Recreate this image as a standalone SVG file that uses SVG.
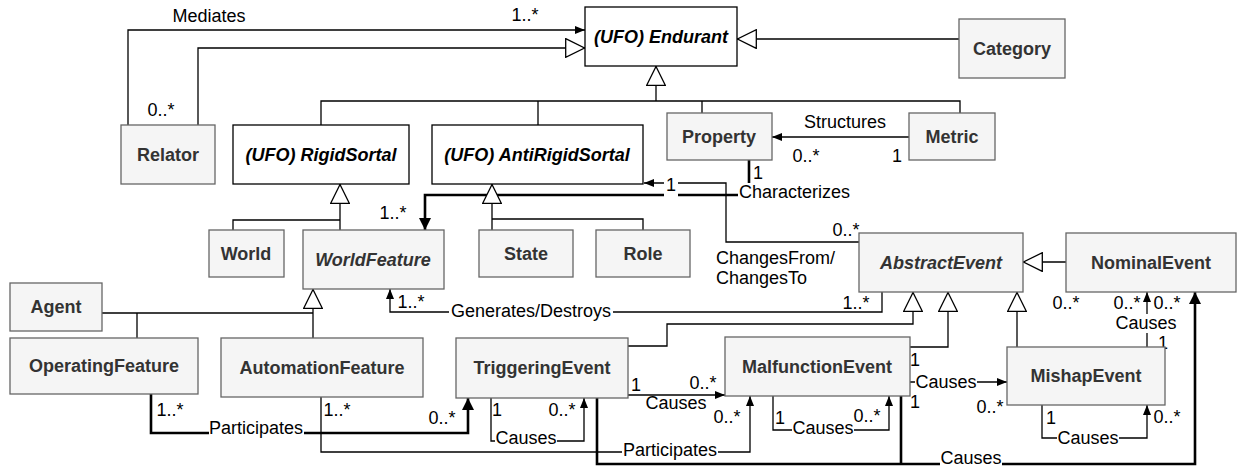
<svg xmlns="http://www.w3.org/2000/svg" width="1238" height="468" viewBox="0 0 1238 468">
<style>
.n{fill:#f5f5f5;stroke:#666666;stroke-width:1.3}
.a{fill:#ffffff;stroke:#000000;stroke-width:1.3}
.t{font-family:"Liberation Sans",Arial,sans-serif;font-size:18px;font-weight:bold;fill:#333333;text-anchor:middle}
.ti{font-family:"Liberation Sans",Arial,sans-serif;font-size:18px;font-weight:bold;font-style:italic;fill:#000000;text-anchor:middle}
.tg{fill:#333333}
.e{fill:none;stroke:#000000;stroke-width:1.3}
.k{fill:none;stroke:#000000;stroke-width:2.6}
.l{font-family:"Liberation Sans",Arial,sans-serif;font-size:18px;fill:#000000;text-anchor:middle}
.ls{font-family:"Liberation Sans",Arial,sans-serif;font-size:18px;fill:#000000;text-anchor:start}
.bg{fill:#ffffff}
</style>
<defs>
<marker id="tri" viewBox="0 0 20 20" refX="20" refY="10" markerWidth="20" markerHeight="20" markerUnits="userSpaceOnUse" orient="auto">
<path d="M0.7,0.7 L19.5,10 L0.7,19.3 Z" fill="#ffffff" stroke="#000000" stroke-width="1.3"/>
</marker>
<marker id="arr" viewBox="0 0 10 8" refX="10" refY="4" markerWidth="10" markerHeight="8" markerUnits="userSpaceOnUse" orient="auto">
<path d="M0,0 L10,4 L0,8 Z" fill="#000000"/>
</marker>
<marker id="arrT" viewBox="0 0 12 12" refX="12" refY="6" markerWidth="12" markerHeight="12" markerUnits="userSpaceOnUse" orient="auto">
<path d="M0,0 L12,6 L0,12 Z" fill="#000000"/>
</marker>
</defs>
<rect width="1238" height="468" fill="#ffffff"/>
<g id="connectors">
<!-- associations -->
<path class="e" d="M128,125 V30 H585" marker-end="url(#arr)"/>
<path class="e" d="M909,137 H772" marker-end="url(#arr)"/>
<path class="e" d="M859,242 H726 V183 H644" marker-end="url(#arr)"/>
<path class="k" d="M749,160 V195 H425 V230" marker-end="url(#arrT)"/>
<path class="e" d="M882,292 V312 H390 V289" marker-end="url(#arr)"/>
<path class="e" d="M1147,347 V292" marker-end="url(#arr)"/>
<path class="k" d="M597,398 V464 H1195 V292" marker-end="url(#arrT)"/>
<path class="k" d="M901,396 V464"/>
<path class="e" d="M491,398 V441 H584 V398" marker-end="url(#arr)"/>
<path class="e" d="M628,395 H725" marker-end="url(#arr)"/>
<path class="k" d="M151,394 V433 H468 V398" marker-end="url(#arrT)"/>
<path class="e" d="M321,397 V452 H750 V396" marker-end="url(#arr)"/>
<path class="e" d="M773,396 V430 H889 V396" marker-end="url(#arr)"/>
<path class="e" d="M910,382 H1007" marker-end="url(#arr)"/>
<path class="e" d="M1042,405 V438 H1147 V405" marker-end="url(#arr)"/>
<!-- generalizations -->
<path class="e" d="M198,125 V48 H585" marker-end="url(#tri)"/>
<path class="e" d="M959,39 H737" marker-end="url(#tri)"/>
<path class="e" d="M321,125 V101 H960 V113 M538,101 V125 M702,101 V113"/>
<path class="e" d="M656,101 V66" marker-end="url(#tri)"/>
<path class="e" d="M233,230 V220 H340"/>
<path class="e" d="M340,230 V184" marker-end="url(#tri)"/>
<path class="e" d="M492,219 H643 V230"/>
<path class="e" d="M492,230 V184" marker-end="url(#tri)"/>
<path class="e" d="M102,313 H313 M137,313 V338"/>
<path class="e" d="M313,338 V289" marker-end="url(#tri)"/>
<path class="e" d="M628,346 H667 V324 H913 V292" marker-end="url(#tri)"/>
<path class="e" d="M910,347 H948 V292" marker-end="url(#tri)"/>
<path class="e" d="M1017,347 V292" marker-end="url(#tri)"/>
<path class="e" d="M1066,262 H1023" marker-end="url(#tri)"/>
<!-- labels -->
<text class="l" x="209" y="22">Mediates</text>
<text class="l" x="525" y="21">1..*</text>
<text class="l" x="161" y="116">0..*</text>
<text class="l" x="845" y="128">Structures</text>
<text class="l" x="806" y="162">0..*</text>
<text class="l" x="897" y="162">1</text>
<text class="l" x="758" y="179">1</text>
<rect class="bg" x="664" y="176" width="14" height="21"/>
<text class="l" x="671" y="191">1</text>
<rect class="bg" x="738" y="183" width="116" height="19"/>
<text class="ls" x="739" y="198">Characterizes</text>
<text class="l" x="393" y="219">1..*</text>
<text class="l" x="846" y="236">0..*</text>
<text class="ls" x="716" y="264">ChangesFrom/</text>
<text class="ls" x="716" y="284">ChangesTo</text>
<rect class="bg" x="449" y="302" width="164" height="19"/>
<text class="l" x="531" y="317">Generates/Destroys</text>
<text class="l" x="411" y="308">1..*</text>
<text class="l" x="856" y="309">1..*</text>
<text class="l" x="1066" y="309">0..*</text>
<text class="l" x="1127" y="309">0..*</text>
<text class="l" x="1167" y="309">0..*</text>
<rect class="bg" x="1115" y="314" width="63" height="19"/>
<text class="l" x="1146" y="329">Causes</text>
<text class="l" x="1163" y="349">1</text>
<text class="l" x="170" y="416">1..*</text>
<text class="l" x="337" y="416">1..*</text>
<text class="l" x="442" y="424">0..*</text>
<text class="l" x="497" y="416">1</text>
<text class="l" x="562" y="416">0..*</text>
<rect class="bg" x="495" y="429" width="62" height="19"/>
<text class="l" x="526" y="444">Causes</text>
<text class="l" x="636" y="391">1</text>
<text class="l" x="703" y="389">0..*</text>
<text class="l" x="676" y="409">Causes</text>
<rect class="bg" x="209" y="419" width="95" height="19"/>
<text class="l" x="256" y="434">Participates</text>
<rect class="bg" x="622" y="441" width="96" height="19"/>
<text class="l" x="670" y="456">Participates</text>
<text class="l" x="727" y="423">0..*</text>
<text class="l" x="780" y="424">1</text>
<text class="l" x="867" y="422">0..*</text>
<rect class="bg" x="792" y="419" width="62" height="19"/>
<text class="l" x="823" y="434">Causes</text>
<text class="l" x="915" y="366">1</text>
<text class="l" x="915" y="408">1</text>
<rect class="bg" x="915" y="373" width="62" height="19"/>
<text class="l" x="946" y="388">Causes</text>
<text class="l" x="990" y="413">0..*</text>
<text class="l" x="1051" y="424">1</text>
<text class="l" x="1167" y="423">0..*</text>
<rect class="bg" x="1057" y="429" width="62" height="19"/>
<text class="l" x="1088" y="444">Causes</text>
<rect class="bg" x="940" y="449" width="62" height="19"/>
<text class="l" x="971" y="464">Causes</text>
</g>
<g id="Endurant"><rect class="a" x="585" y="7" width="152" height="59"/><text class="ti" x="661" y="43">(UFO) Endurant</text></g>
<g id="Category"><rect class="n" x="959" y="19" width="106" height="59"/><text class="t" x="1012" y="55">Category</text></g>
<g id="Relator"><rect class="n" x="121" y="125" width="94" height="59"/><text class="t" x="168" y="161">Relator</text></g>
<g id="RigidSortal"><rect class="a" x="233" y="125" width="176" height="59"/><text class="ti" x="321" y="161">(UFO) RigidSortal</text></g>
<g id="AntiRigidSortal"><rect class="a" x="432" y="125" width="211" height="59"/><text class="ti" x="537" y="161">(UFO) AntiRigidSortal</text></g>
<g id="Property"><rect class="n" x="667" y="113" width="105" height="47"/><text class="t" x="719" y="143">Property</text></g>
<g id="Metric"><rect class="n" x="909" y="113" width="86" height="47"/><text class="t" x="952" y="143">Metric</text></g>
<g id="World"><rect class="n" x="209" y="230" width="75" height="47"/><text class="t" x="246" y="260">World</text></g>
<g id="WorldFeature"><rect class="n" x="303" y="230" width="141" height="59"/><text class="ti tg" x="373" y="266">WorldFeature</text></g>
<g id="State"><rect class="n" x="479" y="230" width="94" height="47"/><text class="t" x="526" y="260">State</text></g>
<g id="Role"><rect class="n" x="596" y="230" width="94" height="47"/><text class="t" x="643" y="260">Role</text></g>
<g id="AbstractEvent"><rect class="n" x="859" y="233" width="164" height="59"/><text class="ti tg" x="941" y="269">AbstractEvent</text></g>
<g id="NominalEvent"><rect class="n" x="1066" y="233" width="170" height="59"/><text class="t" x="1151" y="269">NominalEvent</text></g>
<g id="Agent"><rect class="n" x="10" y="283" width="92" height="48"/><text class="t" x="56" y="313">Agent</text></g>
<g id="OperatingFeature"><rect class="n" x="10" y="338" width="188" height="56"/><text class="t" x="104" y="372">OperatingFeature</text></g>
<g id="AutomationFeature"><rect class="n" x="221" y="338" width="202" height="59"/><text class="t" x="322" y="374">AutomationFeature</text></g>
<g id="TriggeringEvent"><rect class="n" x="456" y="338" width="172" height="60"/><text class="t" x="542" y="374">TriggeringEvent</text></g>
<g id="MalfunctionEvent"><rect class="n" x="725" y="337" width="185" height="59"/><text class="t" x="817" y="373">MalfunctionEvent</text></g>
<g id="MishapEvent"><rect class="n" x="1007" y="347" width="158" height="58"/><text class="t" x="1086" y="382">MishapEvent</text></g>
</svg>
